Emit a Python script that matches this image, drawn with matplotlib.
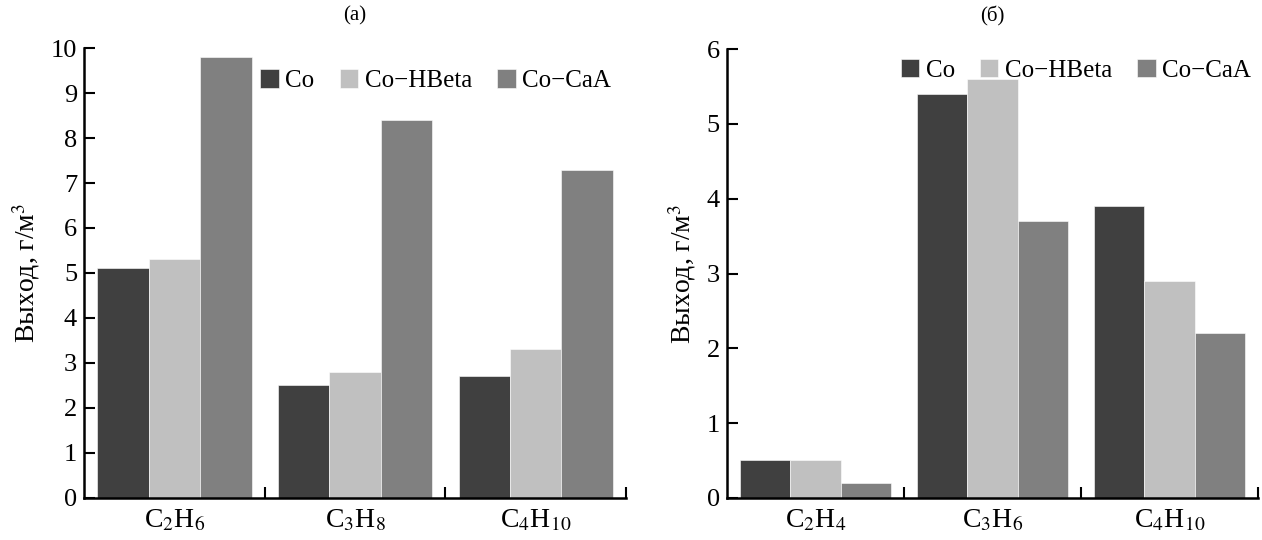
import matplotlib
matplotlib.use('Agg')
import matplotlib.pyplot as plt
import numpy as np

plt.rcParams['font.family'] = ['Liberation Serif', 'DejaVu Serif']
plt.rcParams['mathtext.fontset'] = 'stix'

series = ['Co', 'Co\u2212HBeta', 'Co\u2212CaA']
colors = ['#404040', '#c0c0c0', '#808080']

catsA = [r'C$_2$H$_6$', r'C$_3$H$_8$', r'C$_4$H$_{10}$']
coA = [5.1, 2.5, 2.7]
hbetaA = [5.3, 2.8, 3.3]
caaA = [9.8, 8.4, 7.3]

catsB = [r'C$_2$H$_4$', r'C$_3$H$_6$', r'C$_4$H$_{10}$']
coB = [0.5, 5.4, 3.9]
hbetaB = [0.5, 5.6, 2.9]
caaB = [0.2, 3.7, 2.2]


def drawPanel(ax, cats, data, ymax, title, legendPos):
    x = np.arange(len(cats))
    w = 0.285
    for i, vals in enumerate(data):
        ax.bar(x + (i - 1) * w, vals, w, color=colors[i], label=series[i],
               edgecolor='white', linewidth=0.4)
    ax.set_xlim(-0.5, len(cats) - 0.5)
    ax.set_ylim(0, ymax)
    ax.set_yticks(range(0, ymax + 1))
    ax.set_xticks([0.5, 1.5, 2.5])
    ax.set_xticklabels([])
    ax.set_xticks(x, minor=True)
    ax.set_xticklabels(cats, minor=True)
    ax.tick_params(axis='x', which='minor', length=0, pad=7, labelsize=20)
    ax.tick_params(axis='x', which='major', direction='in', length=8, width=1.5)
    ax.tick_params(axis='y', direction='in', length=8, width=1.5, labelsize=19, pad=5)
    for s in ['top', 'right']:
        ax.spines[s].set_visible(False)
    for s in ['left', 'bottom']:
        ax.spines[s].set_linewidth(1.8)
    ax.set_ylabel('Выход, г/м$^3$', fontsize=20, labelpad=6)
    ax.set_title(title, fontsize=15, pad=20)
    ax.legend(loc='upper right', bbox_to_anchor=legendPos, ncol=3, frameon=False,
              fontsize=18, handlelength=0.75, handleheight=0.75, handletextpad=0.25,
              columnspacing=1.0, borderaxespad=0)


fig = plt.figure(figsize=(12.62, 5.4), dpi=100)
ax1 = fig.add_axes([0.0666, 0.078, 0.4295, 0.833])
ax2 = fig.add_axes([0.576, 0.078, 0.421, 0.831])

drawPanel(ax1, catsA, [coA, hbetaA, caaA], 10, '(a)', (0.99, 0.975))
drawPanel(ax2, catsB, [coB, hbetaB, caaB], 6, '(б)', (1.005, 1.0))

fig.savefig('out.png', dpi=100)
